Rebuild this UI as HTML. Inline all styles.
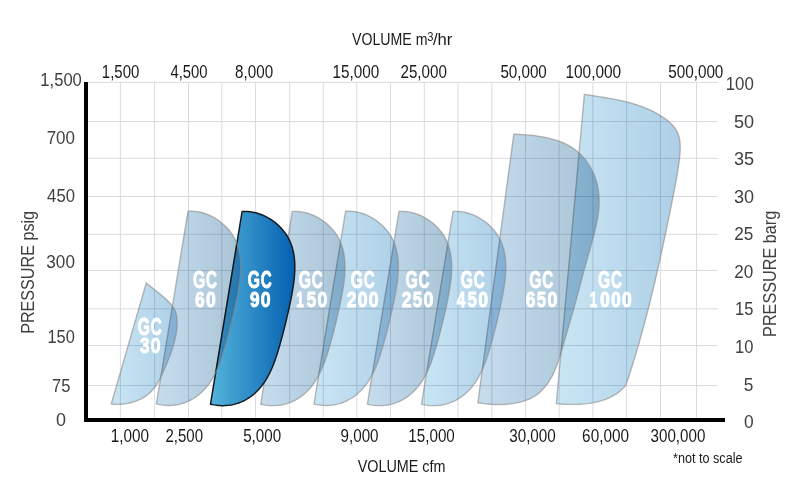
<!DOCTYPE html><html><head><meta charset="utf-8"><style>html,body{margin:0;padding:0;background:#fff;width:800px;height:488px;overflow:hidden}svg{display:block}text{font-family:"Liberation Sans",sans-serif}</style></head><body>
<svg width="800" height="488" viewBox="0 0 800 488">
<defs>
<linearGradient id="g1000" gradientUnits="userSpaceOnUse" x1="556.3" y1="0" x2="680.2" y2="0"><stop offset="0" stop-color="#c9e6f4"/><stop offset="1" stop-color="#aecfe7"/></linearGradient>
<linearGradient id="g650" gradientUnits="userSpaceOnUse" x1="477.9" y1="0" x2="599.1" y2="0"><stop offset="0" stop-color="#c6ddee"/><stop offset="1" stop-color="#a9c4d6"/></linearGradient>
<linearGradient id="g450" gradientUnits="userSpaceOnUse" x1="421.5" y1="0" x2="505.8" y2="0"><stop offset="0" stop-color="#c9e6f4"/><stop offset="1" stop-color="#aecfe7"/></linearGradient>
<linearGradient id="g250" gradientUnits="userSpaceOnUse" x1="367.4" y1="0" x2="451.7" y2="0"><stop offset="0" stop-color="#c6ddee"/><stop offset="1" stop-color="#a9c4d6"/></linearGradient>
<linearGradient id="g200" gradientUnits="userSpaceOnUse" x1="314.0" y1="0" x2="398.3" y2="0"><stop offset="0" stop-color="#c9e6f4"/><stop offset="1" stop-color="#aecfe7"/></linearGradient>
<linearGradient id="g150" gradientUnits="userSpaceOnUse" x1="260.7" y1="0" x2="345.0" y2="0"><stop offset="0" stop-color="#c6ddee"/><stop offset="1" stop-color="#a9c4d6"/></linearGradient>
<linearGradient id="g90" gradientUnits="userSpaceOnUse" x1="210.5" y1="0" x2="294.8" y2="0"><stop offset="0" stop-color="#54b4dc"/><stop offset="1" stop-color="#0560b0"/></linearGradient>
<linearGradient id="g60" gradientUnits="userSpaceOnUse" x1="156.4" y1="0" x2="240.7" y2="0"><stop offset="0" stop-color="#c6ddee"/><stop offset="1" stop-color="#a9c4d6"/></linearGradient>
<linearGradient id="g30" gradientUnits="userSpaceOnUse" x1="111.3" y1="0" x2="177.1" y2="0"><stop offset="0" stop-color="#c9e6f4"/><stop offset="1" stop-color="#aecfe7"/></linearGradient>
</defs>
<rect x="119.9" y="82" width="1" height="336" fill="#dbdbe1"/>
<rect x="154.1" y="82" width="1" height="336" fill="#dbdbe1"/>
<rect x="188.0" y="82" width="1" height="336" fill="#dbdbe1"/>
<rect x="221.3" y="82" width="1" height="336" fill="#dbdbe1"/>
<rect x="255.0" y="82" width="1" height="336" fill="#dbdbe1"/>
<rect x="289.2" y="82" width="1" height="336" fill="#dbdbe1"/>
<rect x="322.8" y="82" width="1" height="336" fill="#dbdbe1"/>
<rect x="356.3" y="82" width="1" height="336" fill="#dbdbe1"/>
<rect x="390.0" y="82" width="1" height="336" fill="#dbdbe1"/>
<rect x="423.8" y="82" width="1" height="336" fill="#dbdbe1"/>
<rect x="457.5" y="82" width="1" height="336" fill="#dbdbe1"/>
<rect x="491.3" y="82" width="1" height="336" fill="#dbdbe1"/>
<rect x="524.9" y="82" width="1" height="336" fill="#dbdbe1"/>
<rect x="558.6" y="82" width="1" height="336" fill="#dbdbe1"/>
<rect x="592.4" y="82" width="1" height="336" fill="#dbdbe1"/>
<rect x="626.1" y="82" width="1" height="336" fill="#dbdbe1"/>
<rect x="660.0" y="82" width="1" height="336" fill="#dbdbe1"/>
<rect x="696.0" y="82" width="1" height="336" fill="#dbdbe1"/>
<rect x="88" y="81.9" width="630" height="1" fill="#dbdbe1"/>
<rect x="88" y="121.0" width="630" height="1" fill="#dbdbe1"/>
<rect x="88" y="157.8" width="630" height="1" fill="#dbdbe1"/>
<rect x="88" y="196.0" width="630" height="1" fill="#dbdbe1"/>
<rect x="88" y="233.8" width="630" height="1" fill="#dbdbe1"/>
<rect x="88" y="270.0" width="630" height="1" fill="#dbdbe1"/>
<rect x="88" y="308.3" width="630" height="1" fill="#dbdbe1"/>
<rect x="88" y="345.0" width="630" height="1" fill="#dbdbe1"/>
<rect x="88" y="385.0" width="630" height="1" fill="#dbdbe1"/>
<path d="M584.40,94.40 L586.18,94.68 L587.96,94.96 L589.75,95.24 L591.54,95.51 L593.34,95.79 L595.14,96.07 L596.94,96.35 L598.75,96.63 L600.56,96.91 L602.37,97.20 L604.18,97.50 L605.99,97.80 L607.80,98.10 L609.62,98.42 L611.43,98.75 L613.24,99.08 L615.05,99.43 L616.85,99.79 L618.66,100.16 L620.46,100.54 L622.26,100.94 L624.05,101.36 L625.84,101.79 L627.62,102.24 L629.40,102.70 L631.17,103.19 L632.94,103.70 L634.70,104.23 L636.45,104.78 L638.20,105.35 L639.93,105.94 L641.66,106.57 L643.38,107.21 L645.09,107.89 L646.78,108.59 L648.47,109.32 L650.15,110.08 L651.81,110.87 L653.47,111.69 L655.11,112.54 L656.73,113.43 L658.34,114.35 L659.94,115.30 L661.53,116.29 L663.09,117.32 L664.63,118.39 L666.14,119.49 L667.60,120.64 L669.02,121.83 L670.37,123.06 L671.67,124.33 L672.89,125.65 L674.03,127.02 L675.08,128.43 L676.04,129.90 L676.90,131.41 L677.65,132.98 L678.29,134.59 L678.82,136.25 L679.25,137.95 L679.60,139.69 L679.86,141.46 L680.04,143.26 L680.15,145.09 L680.20,146.94 L680.19,148.80 L680.12,150.67 L680.01,152.56 L679.87,154.44 L679.69,156.33 L679.49,158.21 L679.27,160.08 L679.03,161.94 L678.79,163.79 L678.53,165.63 L678.27,167.45 L678.00,169.26 L677.72,171.07 L677.43,172.86 L677.13,174.65 L676.83,176.43 L676.52,178.20 L676.20,179.97 L675.88,181.73 L675.56,183.48 L675.23,185.24 L674.89,186.99 L674.56,188.74 L674.22,190.49 L673.87,192.23 L673.53,193.98 L673.18,195.73 L672.84,197.48 L672.49,199.23 L672.14,200.99 L671.79,202.74 L671.44,204.50 L671.09,206.26 L670.74,208.02 L670.39,209.78 L670.03,211.54 L669.68,213.31 L669.32,215.07 L668.96,216.84 L668.60,218.61 L668.24,220.38 L667.88,222.15 L667.51,223.92 L667.15,225.69 L666.78,227.47 L666.41,229.24 L666.04,231.02 L665.67,232.79 L665.30,234.57 L664.93,236.35 L664.55,238.13 L664.18,239.91 L663.80,241.69 L663.42,243.47 L663.04,245.26 L662.65,247.04 L662.27,248.82 L661.88,250.61 L661.49,252.39 L661.11,254.18 L660.71,255.97 L660.32,257.75 L659.93,259.54 L659.53,261.33 L659.13,263.11 L658.73,264.90 L658.33,266.69 L657.92,268.48 L657.52,270.27 L657.11,272.06 L656.70,273.85 L656.29,275.63 L655.87,277.42 L655.46,279.21 L655.04,281.00 L654.62,282.79 L654.19,284.58 L653.77,286.37 L653.34,288.16 L652.91,289.95 L652.48,291.73 L652.05,293.52 L651.62,295.31 L651.18,297.10 L650.74,298.88 L650.30,300.67 L649.85,302.46 L649.40,304.24 L648.95,306.03 L648.50,307.81 L648.05,309.59 L647.59,311.38 L647.13,313.16 L646.67,314.94 L646.21,316.72 L645.74,318.50 L645.27,320.28 L644.80,322.06 L644.32,323.84 L643.85,325.61 L643.37,327.39 L642.88,329.16 L642.40,330.94 L641.91,332.71 L641.42,334.48 L640.93,336.25 L640.43,338.02 L639.93,339.79 L639.43,341.56 L638.93,343.32 L638.42,345.08 L637.91,346.85 L637.40,348.61 L636.88,350.37 L636.36,352.13 L635.84,353.88 L635.31,355.64 L634.78,357.39 L634.25,359.14 L633.72,360.89 L633.18,362.64 L632.64,364.39 L632.10,366.13 L631.55,367.88 L631.00,369.62 L630.45,371.36 L629.89,373.09 L629.33,374.83 L628.77,376.56 L628.20,378.30 L627.63,380.02 L627.06,381.75 L626.48,383.48 L625.90,385.20 L624.14,387.19 L622.29,389.05 L620.35,390.78 L618.34,392.38 L616.25,393.86 L614.10,395.23 L611.88,396.47 L609.60,397.61 L607.26,398.64 L604.88,399.57 L602.45,400.41 L599.98,401.15 L597.47,401.80 L594.93,402.37 L592.37,402.86 L589.78,403.27 L587.18,403.62 L584.56,403.89 L581.94,404.10 L579.31,404.26 L576.68,404.36 L574.06,404.41 L571.46,404.41 L568.86,404.37 L566.29,404.29 L563.74,404.18 L561.23,404.05 L558.74,403.88 L556.30,403.70 Z" fill="url(#g1000)" style="mix-blend-mode:multiply"/>
<path d="M584.40,94.40 L586.18,94.68 L587.96,94.96 L589.75,95.24 L591.54,95.51 L593.34,95.79 L595.14,96.07 L596.94,96.35 L598.75,96.63 L600.56,96.91 L602.37,97.20 L604.18,97.50 L605.99,97.80 L607.80,98.10 L609.62,98.42 L611.43,98.75 L613.24,99.08 L615.05,99.43 L616.85,99.79 L618.66,100.16 L620.46,100.54 L622.26,100.94 L624.05,101.36 L625.84,101.79 L627.62,102.24 L629.40,102.70 L631.17,103.19 L632.94,103.70 L634.70,104.23 L636.45,104.78 L638.20,105.35 L639.93,105.94 L641.66,106.57 L643.38,107.21 L645.09,107.89 L646.78,108.59 L648.47,109.32 L650.15,110.08 L651.81,110.87 L653.47,111.69 L655.11,112.54 L656.73,113.43 L658.34,114.35 L659.94,115.30 L661.53,116.29 L663.09,117.32 L664.63,118.39 L666.14,119.49 L667.60,120.64 L669.02,121.83 L670.37,123.06 L671.67,124.33 L672.89,125.65 L674.03,127.02 L675.08,128.43 L676.04,129.90 L676.90,131.41 L677.65,132.98 L678.29,134.59 L678.82,136.25 L679.25,137.95 L679.60,139.69 L679.86,141.46 L680.04,143.26 L680.15,145.09 L680.20,146.94 L680.19,148.80 L680.12,150.67 L680.01,152.56 L679.87,154.44 L679.69,156.33 L679.49,158.21 L679.27,160.08 L679.03,161.94 L678.79,163.79 L678.53,165.63 L678.27,167.45 L678.00,169.26 L677.72,171.07 L677.43,172.86 L677.13,174.65 L676.83,176.43 L676.52,178.20 L676.20,179.97 L675.88,181.73 L675.56,183.48 L675.23,185.24 L674.89,186.99 L674.56,188.74 L674.22,190.49 L673.87,192.23 L673.53,193.98 L673.18,195.73 L672.84,197.48 L672.49,199.23 L672.14,200.99 L671.79,202.74 L671.44,204.50 L671.09,206.26 L670.74,208.02 L670.39,209.78 L670.03,211.54 L669.68,213.31 L669.32,215.07 L668.96,216.84 L668.60,218.61 L668.24,220.38 L667.88,222.15 L667.51,223.92 L667.15,225.69 L666.78,227.47 L666.41,229.24 L666.04,231.02 L665.67,232.79 L665.30,234.57 L664.93,236.35 L664.55,238.13 L664.18,239.91 L663.80,241.69 L663.42,243.47 L663.04,245.26 L662.65,247.04 L662.27,248.82 L661.88,250.61 L661.49,252.39 L661.11,254.18 L660.71,255.97 L660.32,257.75 L659.93,259.54 L659.53,261.33 L659.13,263.11 L658.73,264.90 L658.33,266.69 L657.92,268.48 L657.52,270.27 L657.11,272.06 L656.70,273.85 L656.29,275.63 L655.87,277.42 L655.46,279.21 L655.04,281.00 L654.62,282.79 L654.19,284.58 L653.77,286.37 L653.34,288.16 L652.91,289.95 L652.48,291.73 L652.05,293.52 L651.62,295.31 L651.18,297.10 L650.74,298.88 L650.30,300.67 L649.85,302.46 L649.40,304.24 L648.95,306.03 L648.50,307.81 L648.05,309.59 L647.59,311.38 L647.13,313.16 L646.67,314.94 L646.21,316.72 L645.74,318.50 L645.27,320.28 L644.80,322.06 L644.32,323.84 L643.85,325.61 L643.37,327.39 L642.88,329.16 L642.40,330.94 L641.91,332.71 L641.42,334.48 L640.93,336.25 L640.43,338.02 L639.93,339.79 L639.43,341.56 L638.93,343.32 L638.42,345.08 L637.91,346.85 L637.40,348.61 L636.88,350.37 L636.36,352.13 L635.84,353.88 L635.31,355.64 L634.78,357.39 L634.25,359.14 L633.72,360.89 L633.18,362.64 L632.64,364.39 L632.10,366.13 L631.55,367.88 L631.00,369.62 L630.45,371.36 L629.89,373.09 L629.33,374.83 L628.77,376.56 L628.20,378.30 L627.63,380.02 L627.06,381.75 L626.48,383.48 L625.90,385.20 L624.14,387.19 L622.29,389.05 L620.35,390.78 L618.34,392.38 L616.25,393.86 L614.10,395.23 L611.88,396.47 L609.60,397.61 L607.26,398.64 L604.88,399.57 L602.45,400.41 L599.98,401.15 L597.47,401.80 L594.93,402.37 L592.37,402.86 L589.78,403.27 L587.18,403.62 L584.56,403.89 L581.94,404.10 L579.31,404.26 L576.68,404.36 L574.06,404.41 L571.46,404.41 L568.86,404.37 L566.29,404.29 L563.74,404.18 L561.23,404.05 L558.74,403.88 L556.30,403.70 Z" fill="none" stroke="#8a8a8a" stroke-opacity="0.60" stroke-width="1.40"/>
<path d="M513.80,134.20 L515.81,134.28 L517.86,134.37 L519.94,134.48 L522.05,134.60 L524.19,134.74 L526.36,134.91 L528.54,135.09 L530.75,135.30 L532.97,135.54 L535.19,135.81 L537.43,136.11 L539.67,136.45 L541.90,136.82 L544.14,137.23 L546.37,137.68 L548.58,138.18 L550.78,138.71 L552.97,139.30 L555.13,139.94 L557.27,140.62 L559.38,141.36 L561.45,142.16 L563.49,143.01 L565.50,143.93 L567.46,144.91 L569.37,145.95 L571.24,147.06 L573.05,148.23 L574.80,149.48 L576.50,150.80 L578.14,152.18 L579.73,153.62 L581.25,155.12 L582.72,156.67 L584.13,158.29 L585.48,159.95 L586.77,161.66 L587.99,163.41 L589.16,165.21 L590.26,167.05 L591.31,168.93 L592.28,170.84 L593.20,172.78 L594.05,174.75 L594.84,176.75 L595.56,178.77 L596.22,180.81 L596.81,182.87 L597.33,184.95 L597.79,187.04 L598.17,189.14 L598.50,191.24 L598.75,193.35 L598.94,195.47 L599.07,197.59 L599.13,199.72 L599.15,201.85 L599.10,203.99 L599.01,206.13 L598.86,208.28 L598.67,210.42 L598.44,212.57 L598.16,214.72 L597.84,216.88 L597.49,219.03 L597.10,221.19 L596.68,223.35 L596.22,225.51 L595.75,227.66 L595.24,229.82 L594.72,231.98 L594.17,234.13 L593.61,236.29 L593.03,238.44 L592.44,240.59 L591.84,242.74 L591.24,244.89 L590.63,247.03 L590.01,249.17 L589.40,251.30 L588.79,253.43 L588.18,255.56 L587.58,257.68 L586.99,259.79 L586.40,261.90 L585.81,264.01 L585.24,266.11 L584.66,268.21 L584.09,270.31 L583.53,272.40 L582.97,274.49 L582.41,276.57 L581.85,278.66 L581.29,280.74 L580.74,282.82 L580.18,284.90 L579.63,286.98 L579.08,289.05 L578.52,291.13 L577.97,293.20 L577.41,295.28 L576.85,297.35 L576.29,299.43 L575.73,301.50 L575.16,303.58 L574.59,305.65 L574.01,307.73 L573.43,309.81 L572.84,311.89 L572.25,313.97 L571.66,316.06 L571.06,318.15 L570.46,320.23 L569.85,322.33 L569.24,324.42 L568.63,326.52 L568.02,328.62 L567.40,330.73 L566.79,332.84 L566.17,334.95 L565.56,337.06 L564.94,339.19 L564.32,341.31 L563.71,343.44 L563.10,345.57 L562.48,347.71 L561.86,349.85 L561.23,351.98 L560.59,354.12 L559.93,356.25 L559.25,358.37 L558.54,360.48 L557.81,362.57 L557.06,364.65 L556.27,366.71 L555.45,368.74 L554.59,370.75 L553.70,372.72 L552.76,374.66 L551.79,376.57 L550.77,378.43 L549.70,380.25 L548.58,382.03 L547.41,383.75 L546.18,385.42 L544.90,387.03 L543.56,388.59 L542.15,390.08 L540.68,391.51 L539.15,392.86 L537.54,394.15 L535.86,395.36 L534.11,396.49 L532.28,397.53 L530.38,398.50 L528.41,399.38 L526.38,400.19 L524.29,400.92 L522.15,401.58 L519.97,402.17 L517.74,402.68 L515.49,403.13 L513.21,403.52 L510.90,403.84 L508.58,404.10 L506.26,404.30 L503.93,404.45 L501.60,404.54 L499.28,404.58 L496.97,404.56 L494.69,404.50 L492.43,404.40 L490.20,404.25 L488.02,404.06 L485.88,403.83 L483.79,403.57 L481.76,403.28 L479.80,402.95 L477.90,402.60 Z" fill="url(#g650)" style="mix-blend-mode:multiply"/>
<path d="M513.80,134.20 L515.81,134.28 L517.86,134.37 L519.94,134.48 L522.05,134.60 L524.19,134.74 L526.36,134.91 L528.54,135.09 L530.75,135.30 L532.97,135.54 L535.19,135.81 L537.43,136.11 L539.67,136.45 L541.90,136.82 L544.14,137.23 L546.37,137.68 L548.58,138.18 L550.78,138.71 L552.97,139.30 L555.13,139.94 L557.27,140.62 L559.38,141.36 L561.45,142.16 L563.49,143.01 L565.50,143.93 L567.46,144.91 L569.37,145.95 L571.24,147.06 L573.05,148.23 L574.80,149.48 L576.50,150.80 L578.14,152.18 L579.73,153.62 L581.25,155.12 L582.72,156.67 L584.13,158.29 L585.48,159.95 L586.77,161.66 L587.99,163.41 L589.16,165.21 L590.26,167.05 L591.31,168.93 L592.28,170.84 L593.20,172.78 L594.05,174.75 L594.84,176.75 L595.56,178.77 L596.22,180.81 L596.81,182.87 L597.33,184.95 L597.79,187.04 L598.17,189.14 L598.50,191.24 L598.75,193.35 L598.94,195.47 L599.07,197.59 L599.13,199.72 L599.15,201.85 L599.10,203.99 L599.01,206.13 L598.86,208.28 L598.67,210.42 L598.44,212.57 L598.16,214.72 L597.84,216.88 L597.49,219.03 L597.10,221.19 L596.68,223.35 L596.22,225.51 L595.75,227.66 L595.24,229.82 L594.72,231.98 L594.17,234.13 L593.61,236.29 L593.03,238.44 L592.44,240.59 L591.84,242.74 L591.24,244.89 L590.63,247.03 L590.01,249.17 L589.40,251.30 L588.79,253.43 L588.18,255.56 L587.58,257.68 L586.99,259.79 L586.40,261.90 L585.81,264.01 L585.24,266.11 L584.66,268.21 L584.09,270.31 L583.53,272.40 L582.97,274.49 L582.41,276.57 L581.85,278.66 L581.29,280.74 L580.74,282.82 L580.18,284.90 L579.63,286.98 L579.08,289.05 L578.52,291.13 L577.97,293.20 L577.41,295.28 L576.85,297.35 L576.29,299.43 L575.73,301.50 L575.16,303.58 L574.59,305.65 L574.01,307.73 L573.43,309.81 L572.84,311.89 L572.25,313.97 L571.66,316.06 L571.06,318.15 L570.46,320.23 L569.85,322.33 L569.24,324.42 L568.63,326.52 L568.02,328.62 L567.40,330.73 L566.79,332.84 L566.17,334.95 L565.56,337.06 L564.94,339.19 L564.32,341.31 L563.71,343.44 L563.10,345.57 L562.48,347.71 L561.86,349.85 L561.23,351.98 L560.59,354.12 L559.93,356.25 L559.25,358.37 L558.54,360.48 L557.81,362.57 L557.06,364.65 L556.27,366.71 L555.45,368.74 L554.59,370.75 L553.70,372.72 L552.76,374.66 L551.79,376.57 L550.77,378.43 L549.70,380.25 L548.58,382.03 L547.41,383.75 L546.18,385.42 L544.90,387.03 L543.56,388.59 L542.15,390.08 L540.68,391.51 L539.15,392.86 L537.54,394.15 L535.86,395.36 L534.11,396.49 L532.28,397.53 L530.38,398.50 L528.41,399.38 L526.38,400.19 L524.29,400.92 L522.15,401.58 L519.97,402.17 L517.74,402.68 L515.49,403.13 L513.21,403.52 L510.90,403.84 L508.58,404.10 L506.26,404.30 L503.93,404.45 L501.60,404.54 L499.28,404.58 L496.97,404.56 L494.69,404.50 L492.43,404.40 L490.20,404.25 L488.02,404.06 L485.88,403.83 L483.79,403.57 L481.76,403.28 L479.80,402.95 L477.90,402.60 Z" fill="none" stroke="#8a8a8a" stroke-opacity="0.60" stroke-width="1.40"/>
<path d="M453.10,211.50 L454.64,211.42 L456.19,211.40 L457.73,211.44 L459.26,211.54 L460.79,211.69 L462.31,211.89 L463.82,212.15 L465.33,212.46 L466.82,212.81 L468.30,213.22 L469.77,213.68 L471.23,214.18 L472.67,214.72 L474.09,215.31 L475.49,215.95 L476.88,216.62 L478.24,217.34 L479.59,218.09 L480.91,218.89 L482.21,219.72 L483.48,220.58 L484.72,221.48 L485.94,222.41 L487.13,223.38 L488.29,224.37 L489.42,225.40 L490.51,226.45 L491.58,227.53 L492.60,228.63 L493.59,229.76 L494.55,230.92 L495.46,232.09 L496.34,233.29 L497.18,234.50 L497.97,235.74 L498.72,236.99 L499.42,238.26 L500.09,239.54 L500.71,240.84 L501.29,242.16 L501.83,243.49 L502.33,244.83 L502.80,246.19 L503.23,247.56 L503.62,248.94 L503.97,250.33 L504.29,251.74 L504.58,253.15 L504.84,254.58 L505.06,256.02 L505.25,257.47 L505.41,258.92 L505.55,260.38 L505.65,261.86 L505.73,263.34 L505.78,264.82 L505.81,266.32 L505.81,267.82 L505.79,269.32 L505.74,270.83 L505.67,272.34 L505.59,273.86 L505.48,275.39 L505.35,276.91 L505.21,278.44 L505.05,279.97 L504.87,281.50 L504.67,283.03 L504.46,284.57 L504.24,286.10 L504.00,287.63 L503.76,289.17 L503.50,290.70 L503.23,292.23 L502.95,293.75 L502.67,295.28 L502.37,296.80 L502.07,298.31 L501.77,299.83 L501.46,301.34 L501.14,302.84 L500.83,304.33 L500.51,305.83 L500.19,307.31 L499.86,308.79 L499.54,310.26 L499.21,311.73 L498.88,313.19 L498.55,314.65 L498.22,316.10 L497.88,317.55 L497.55,319.00 L497.20,320.44 L496.86,321.88 L496.51,323.32 L496.16,324.75 L495.81,326.18 L495.45,327.61 L495.09,329.05 L494.73,330.47 L494.36,331.90 L493.99,333.33 L493.61,334.76 L493.23,336.19 L492.85,337.62 L492.46,339.06 L492.06,340.49 L491.67,341.92 L491.26,343.36 L490.85,344.80 L490.44,346.25 L490.02,347.69 L489.59,349.14 L489.16,350.59 L488.72,352.04 L488.27,353.48 L487.81,354.93 L487.34,356.37 L486.86,357.81 L486.36,359.24 L485.86,360.67 L485.34,362.09 L484.81,363.50 L484.26,364.91 L483.70,366.30 L483.12,367.69 L482.52,369.07 L481.91,370.43 L481.28,371.79 L480.62,373.12 L479.95,374.45 L479.26,375.76 L478.55,377.05 L477.81,378.33 L477.05,379.59 L476.27,380.83 L475.47,382.05 L474.64,383.26 L473.79,384.44 L472.91,385.59 L472.02,386.73 L471.09,387.84 L470.15,388.93 L469.18,389.99 L468.19,391.02 L467.17,392.02 L466.13,393.00 L465.06,393.95 L463.97,394.87 L462.86,395.75 L461.72,396.60 L460.55,397.42 L459.36,398.21 L458.15,398.96 L456.91,399.67 L455.65,400.35 L454.36,400.99 L453.06,401.60 L451.73,402.16 L450.37,402.68 L449.00,403.17 L447.61,403.61 L446.20,404.01 L444.77,404.37 L443.32,404.69 L441.85,404.96 L440.37,405.19 L438.87,405.37 L437.35,405.51 L435.82,405.60 L434.28,405.64 L432.72,405.64 L431.15,405.58 L429.57,405.48 L427.98,405.33 L426.37,405.12 L424.76,404.87 L423.13,404.56 L421.50,404.20 Z" fill="url(#g450)" style="mix-blend-mode:multiply"/>
<path d="M453.10,211.50 L454.64,211.42 L456.19,211.40 L457.73,211.44 L459.26,211.54 L460.79,211.69 L462.31,211.89 L463.82,212.15 L465.33,212.46 L466.82,212.81 L468.30,213.22 L469.77,213.68 L471.23,214.18 L472.67,214.72 L474.09,215.31 L475.49,215.95 L476.88,216.62 L478.24,217.34 L479.59,218.09 L480.91,218.89 L482.21,219.72 L483.48,220.58 L484.72,221.48 L485.94,222.41 L487.13,223.38 L488.29,224.37 L489.42,225.40 L490.51,226.45 L491.58,227.53 L492.60,228.63 L493.59,229.76 L494.55,230.92 L495.46,232.09 L496.34,233.29 L497.18,234.50 L497.97,235.74 L498.72,236.99 L499.42,238.26 L500.09,239.54 L500.71,240.84 L501.29,242.16 L501.83,243.49 L502.33,244.83 L502.80,246.19 L503.23,247.56 L503.62,248.94 L503.97,250.33 L504.29,251.74 L504.58,253.15 L504.84,254.58 L505.06,256.02 L505.25,257.47 L505.41,258.92 L505.55,260.38 L505.65,261.86 L505.73,263.34 L505.78,264.82 L505.81,266.32 L505.81,267.82 L505.79,269.32 L505.74,270.83 L505.67,272.34 L505.59,273.86 L505.48,275.39 L505.35,276.91 L505.21,278.44 L505.05,279.97 L504.87,281.50 L504.67,283.03 L504.46,284.57 L504.24,286.10 L504.00,287.63 L503.76,289.17 L503.50,290.70 L503.23,292.23 L502.95,293.75 L502.67,295.28 L502.37,296.80 L502.07,298.31 L501.77,299.83 L501.46,301.34 L501.14,302.84 L500.83,304.33 L500.51,305.83 L500.19,307.31 L499.86,308.79 L499.54,310.26 L499.21,311.73 L498.88,313.19 L498.55,314.65 L498.22,316.10 L497.88,317.55 L497.55,319.00 L497.20,320.44 L496.86,321.88 L496.51,323.32 L496.16,324.75 L495.81,326.18 L495.45,327.61 L495.09,329.05 L494.73,330.47 L494.36,331.90 L493.99,333.33 L493.61,334.76 L493.23,336.19 L492.85,337.62 L492.46,339.06 L492.06,340.49 L491.67,341.92 L491.26,343.36 L490.85,344.80 L490.44,346.25 L490.02,347.69 L489.59,349.14 L489.16,350.59 L488.72,352.04 L488.27,353.48 L487.81,354.93 L487.34,356.37 L486.86,357.81 L486.36,359.24 L485.86,360.67 L485.34,362.09 L484.81,363.50 L484.26,364.91 L483.70,366.30 L483.12,367.69 L482.52,369.07 L481.91,370.43 L481.28,371.79 L480.62,373.12 L479.95,374.45 L479.26,375.76 L478.55,377.05 L477.81,378.33 L477.05,379.59 L476.27,380.83 L475.47,382.05 L474.64,383.26 L473.79,384.44 L472.91,385.59 L472.02,386.73 L471.09,387.84 L470.15,388.93 L469.18,389.99 L468.19,391.02 L467.17,392.02 L466.13,393.00 L465.06,393.95 L463.97,394.87 L462.86,395.75 L461.72,396.60 L460.55,397.42 L459.36,398.21 L458.15,398.96 L456.91,399.67 L455.65,400.35 L454.36,400.99 L453.06,401.60 L451.73,402.16 L450.37,402.68 L449.00,403.17 L447.61,403.61 L446.20,404.01 L444.77,404.37 L443.32,404.69 L441.85,404.96 L440.37,405.19 L438.87,405.37 L437.35,405.51 L435.82,405.60 L434.28,405.64 L432.72,405.64 L431.15,405.58 L429.57,405.48 L427.98,405.33 L426.37,405.12 L424.76,404.87 L423.13,404.56 L421.50,404.20 Z" fill="none" stroke="#8a8a8a" stroke-opacity="0.60" stroke-width="1.40"/>
<path d="M399.00,211.50 L400.54,211.42 L402.09,211.40 L403.63,211.44 L405.16,211.54 L406.69,211.69 L408.21,211.89 L409.72,212.15 L411.23,212.46 L412.72,212.81 L414.20,213.22 L415.67,213.68 L417.13,214.18 L418.57,214.72 L419.99,215.31 L421.39,215.95 L422.78,216.62 L424.14,217.34 L425.49,218.09 L426.81,218.89 L428.11,219.72 L429.38,220.58 L430.62,221.48 L431.84,222.41 L433.03,223.38 L434.19,224.37 L435.32,225.40 L436.41,226.45 L437.48,227.53 L438.50,228.63 L439.49,229.76 L440.45,230.92 L441.36,232.09 L442.24,233.29 L443.08,234.50 L443.87,235.74 L444.62,236.99 L445.32,238.26 L445.99,239.54 L446.61,240.84 L447.19,242.16 L447.73,243.49 L448.23,244.83 L448.70,246.19 L449.13,247.56 L449.52,248.94 L449.87,250.33 L450.19,251.74 L450.48,253.15 L450.74,254.58 L450.96,256.02 L451.15,257.47 L451.31,258.92 L451.45,260.38 L451.55,261.86 L451.63,263.34 L451.68,264.82 L451.71,266.32 L451.71,267.82 L451.69,269.32 L451.64,270.83 L451.57,272.34 L451.49,273.86 L451.38,275.39 L451.25,276.91 L451.11,278.44 L450.95,279.97 L450.77,281.50 L450.57,283.03 L450.36,284.57 L450.14,286.10 L449.90,287.63 L449.66,289.17 L449.40,290.70 L449.13,292.23 L448.85,293.75 L448.57,295.28 L448.27,296.80 L447.97,298.31 L447.67,299.83 L447.36,301.34 L447.04,302.84 L446.73,304.33 L446.41,305.83 L446.09,307.31 L445.76,308.79 L445.44,310.26 L445.11,311.73 L444.78,313.19 L444.45,314.65 L444.12,316.10 L443.78,317.55 L443.45,319.00 L443.10,320.44 L442.76,321.88 L442.41,323.32 L442.06,324.75 L441.71,326.18 L441.35,327.61 L440.99,329.05 L440.63,330.47 L440.26,331.90 L439.89,333.33 L439.51,334.76 L439.13,336.19 L438.75,337.62 L438.36,339.06 L437.96,340.49 L437.57,341.92 L437.16,343.36 L436.75,344.80 L436.34,346.25 L435.92,347.69 L435.49,349.14 L435.06,350.59 L434.62,352.04 L434.17,353.48 L433.71,354.93 L433.24,356.37 L432.76,357.81 L432.26,359.24 L431.76,360.67 L431.24,362.09 L430.71,363.50 L430.16,364.91 L429.60,366.30 L429.02,367.69 L428.42,369.07 L427.81,370.43 L427.18,371.79 L426.52,373.12 L425.85,374.45 L425.16,375.76 L424.45,377.05 L423.71,378.33 L422.95,379.59 L422.17,380.83 L421.37,382.05 L420.54,383.26 L419.69,384.44 L418.81,385.59 L417.92,386.73 L416.99,387.84 L416.05,388.93 L415.08,389.99 L414.09,391.02 L413.07,392.02 L412.03,393.00 L410.96,393.95 L409.87,394.87 L408.76,395.75 L407.62,396.60 L406.45,397.42 L405.26,398.21 L404.05,398.96 L402.81,399.67 L401.55,400.35 L400.26,400.99 L398.96,401.60 L397.63,402.16 L396.27,402.68 L394.90,403.17 L393.51,403.61 L392.10,404.01 L390.67,404.37 L389.22,404.69 L387.75,404.96 L386.27,405.19 L384.77,405.37 L383.25,405.51 L381.72,405.60 L380.18,405.64 L378.62,405.64 L377.05,405.58 L375.47,405.48 L373.88,405.33 L372.27,405.12 L370.66,404.87 L369.03,404.56 L367.40,404.20 Z" fill="url(#g250)" style="mix-blend-mode:multiply"/>
<path d="M399.00,211.50 L400.54,211.42 L402.09,211.40 L403.63,211.44 L405.16,211.54 L406.69,211.69 L408.21,211.89 L409.72,212.15 L411.23,212.46 L412.72,212.81 L414.20,213.22 L415.67,213.68 L417.13,214.18 L418.57,214.72 L419.99,215.31 L421.39,215.95 L422.78,216.62 L424.14,217.34 L425.49,218.09 L426.81,218.89 L428.11,219.72 L429.38,220.58 L430.62,221.48 L431.84,222.41 L433.03,223.38 L434.19,224.37 L435.32,225.40 L436.41,226.45 L437.48,227.53 L438.50,228.63 L439.49,229.76 L440.45,230.92 L441.36,232.09 L442.24,233.29 L443.08,234.50 L443.87,235.74 L444.62,236.99 L445.32,238.26 L445.99,239.54 L446.61,240.84 L447.19,242.16 L447.73,243.49 L448.23,244.83 L448.70,246.19 L449.13,247.56 L449.52,248.94 L449.87,250.33 L450.19,251.74 L450.48,253.15 L450.74,254.58 L450.96,256.02 L451.15,257.47 L451.31,258.92 L451.45,260.38 L451.55,261.86 L451.63,263.34 L451.68,264.82 L451.71,266.32 L451.71,267.82 L451.69,269.32 L451.64,270.83 L451.57,272.34 L451.49,273.86 L451.38,275.39 L451.25,276.91 L451.11,278.44 L450.95,279.97 L450.77,281.50 L450.57,283.03 L450.36,284.57 L450.14,286.10 L449.90,287.63 L449.66,289.17 L449.40,290.70 L449.13,292.23 L448.85,293.75 L448.57,295.28 L448.27,296.80 L447.97,298.31 L447.67,299.83 L447.36,301.34 L447.04,302.84 L446.73,304.33 L446.41,305.83 L446.09,307.31 L445.76,308.79 L445.44,310.26 L445.11,311.73 L444.78,313.19 L444.45,314.65 L444.12,316.10 L443.78,317.55 L443.45,319.00 L443.10,320.44 L442.76,321.88 L442.41,323.32 L442.06,324.75 L441.71,326.18 L441.35,327.61 L440.99,329.05 L440.63,330.47 L440.26,331.90 L439.89,333.33 L439.51,334.76 L439.13,336.19 L438.75,337.62 L438.36,339.06 L437.96,340.49 L437.57,341.92 L437.16,343.36 L436.75,344.80 L436.34,346.25 L435.92,347.69 L435.49,349.14 L435.06,350.59 L434.62,352.04 L434.17,353.48 L433.71,354.93 L433.24,356.37 L432.76,357.81 L432.26,359.24 L431.76,360.67 L431.24,362.09 L430.71,363.50 L430.16,364.91 L429.60,366.30 L429.02,367.69 L428.42,369.07 L427.81,370.43 L427.18,371.79 L426.52,373.12 L425.85,374.45 L425.16,375.76 L424.45,377.05 L423.71,378.33 L422.95,379.59 L422.17,380.83 L421.37,382.05 L420.54,383.26 L419.69,384.44 L418.81,385.59 L417.92,386.73 L416.99,387.84 L416.05,388.93 L415.08,389.99 L414.09,391.02 L413.07,392.02 L412.03,393.00 L410.96,393.95 L409.87,394.87 L408.76,395.75 L407.62,396.60 L406.45,397.42 L405.26,398.21 L404.05,398.96 L402.81,399.67 L401.55,400.35 L400.26,400.99 L398.96,401.60 L397.63,402.16 L396.27,402.68 L394.90,403.17 L393.51,403.61 L392.10,404.01 L390.67,404.37 L389.22,404.69 L387.75,404.96 L386.27,405.19 L384.77,405.37 L383.25,405.51 L381.72,405.60 L380.18,405.64 L378.62,405.64 L377.05,405.58 L375.47,405.48 L373.88,405.33 L372.27,405.12 L370.66,404.87 L369.03,404.56 L367.40,404.20 Z" fill="none" stroke="#8a8a8a" stroke-opacity="0.60" stroke-width="1.40"/>
<path d="M345.60,211.30 L347.14,211.22 L348.69,211.20 L350.23,211.24 L351.76,211.34 L353.29,211.49 L354.81,211.69 L356.32,211.95 L357.83,212.26 L359.32,212.61 L360.80,213.02 L362.27,213.48 L363.73,213.98 L365.17,214.52 L366.59,215.11 L367.99,215.75 L369.38,216.42 L370.74,217.14 L372.09,217.89 L373.41,218.69 L374.71,219.52 L375.98,220.38 L377.22,221.28 L378.44,222.21 L379.63,223.18 L380.79,224.17 L381.92,225.20 L383.01,226.25 L384.08,227.33 L385.10,228.43 L386.09,229.56 L387.05,230.72 L387.96,231.89 L388.84,233.09 L389.68,234.30 L390.47,235.54 L391.22,236.79 L391.92,238.06 L392.59,239.34 L393.21,240.64 L393.79,241.96 L394.33,243.29 L394.83,244.63 L395.30,245.99 L395.73,247.36 L396.12,248.74 L396.47,250.13 L396.79,251.54 L397.08,252.95 L397.34,254.38 L397.56,255.82 L397.75,257.27 L397.91,258.72 L398.05,260.18 L398.15,261.66 L398.23,263.14 L398.28,264.62 L398.31,266.12 L398.31,267.62 L398.29,269.12 L398.24,270.63 L398.17,272.14 L398.09,273.66 L397.98,275.19 L397.85,276.71 L397.71,278.24 L397.55,279.77 L397.37,281.30 L397.17,282.83 L396.96,284.37 L396.74,285.90 L396.50,287.43 L396.26,288.97 L396.00,290.50 L395.73,292.03 L395.45,293.55 L395.17,295.08 L394.87,296.60 L394.57,298.11 L394.27,299.63 L393.96,301.14 L393.64,302.64 L393.33,304.13 L393.01,305.63 L392.69,307.11 L392.36,308.59 L392.04,310.06 L391.71,311.53 L391.38,312.99 L391.05,314.45 L390.72,315.90 L390.38,317.35 L390.05,318.80 L389.70,320.24 L389.36,321.68 L389.01,323.12 L388.66,324.55 L388.31,325.98 L387.95,327.41 L387.59,328.85 L387.23,330.27 L386.86,331.70 L386.49,333.13 L386.11,334.56 L385.73,335.99 L385.35,337.42 L384.96,338.86 L384.56,340.29 L384.17,341.72 L383.76,343.16 L383.35,344.60 L382.94,346.05 L382.52,347.49 L382.09,348.94 L381.66,350.39 L381.22,351.84 L380.77,353.28 L380.31,354.73 L379.84,356.17 L379.36,357.61 L378.86,359.04 L378.36,360.47 L377.84,361.89 L377.31,363.30 L376.76,364.71 L376.20,366.10 L375.62,367.49 L375.02,368.87 L374.41,370.23 L373.78,371.59 L373.12,372.92 L372.45,374.25 L371.76,375.56 L371.05,376.85 L370.31,378.13 L369.55,379.39 L368.77,380.63 L367.97,381.85 L367.14,383.06 L366.29,384.24 L365.41,385.39 L364.52,386.53 L363.59,387.64 L362.65,388.73 L361.68,389.79 L360.69,390.82 L359.67,391.82 L358.63,392.80 L357.56,393.75 L356.47,394.67 L355.36,395.55 L354.22,396.40 L353.05,397.22 L351.86,398.01 L350.65,398.76 L349.41,399.47 L348.15,400.15 L346.86,400.79 L345.56,401.40 L344.23,401.96 L342.87,402.48 L341.50,402.97 L340.11,403.41 L338.70,403.81 L337.27,404.17 L335.82,404.49 L334.35,404.76 L332.87,404.99 L331.37,405.17 L329.85,405.31 L328.32,405.40 L326.78,405.44 L325.22,405.44 L323.65,405.38 L322.07,405.28 L320.48,405.13 L318.87,404.92 L317.26,404.67 L315.63,404.36 L314.00,404.00 Z" fill="url(#g200)" style="mix-blend-mode:multiply"/>
<path d="M345.60,211.30 L347.14,211.22 L348.69,211.20 L350.23,211.24 L351.76,211.34 L353.29,211.49 L354.81,211.69 L356.32,211.95 L357.83,212.26 L359.32,212.61 L360.80,213.02 L362.27,213.48 L363.73,213.98 L365.17,214.52 L366.59,215.11 L367.99,215.75 L369.38,216.42 L370.74,217.14 L372.09,217.89 L373.41,218.69 L374.71,219.52 L375.98,220.38 L377.22,221.28 L378.44,222.21 L379.63,223.18 L380.79,224.17 L381.92,225.20 L383.01,226.25 L384.08,227.33 L385.10,228.43 L386.09,229.56 L387.05,230.72 L387.96,231.89 L388.84,233.09 L389.68,234.30 L390.47,235.54 L391.22,236.79 L391.92,238.06 L392.59,239.34 L393.21,240.64 L393.79,241.96 L394.33,243.29 L394.83,244.63 L395.30,245.99 L395.73,247.36 L396.12,248.74 L396.47,250.13 L396.79,251.54 L397.08,252.95 L397.34,254.38 L397.56,255.82 L397.75,257.27 L397.91,258.72 L398.05,260.18 L398.15,261.66 L398.23,263.14 L398.28,264.62 L398.31,266.12 L398.31,267.62 L398.29,269.12 L398.24,270.63 L398.17,272.14 L398.09,273.66 L397.98,275.19 L397.85,276.71 L397.71,278.24 L397.55,279.77 L397.37,281.30 L397.17,282.83 L396.96,284.37 L396.74,285.90 L396.50,287.43 L396.26,288.97 L396.00,290.50 L395.73,292.03 L395.45,293.55 L395.17,295.08 L394.87,296.60 L394.57,298.11 L394.27,299.63 L393.96,301.14 L393.64,302.64 L393.33,304.13 L393.01,305.63 L392.69,307.11 L392.36,308.59 L392.04,310.06 L391.71,311.53 L391.38,312.99 L391.05,314.45 L390.72,315.90 L390.38,317.35 L390.05,318.80 L389.70,320.24 L389.36,321.68 L389.01,323.12 L388.66,324.55 L388.31,325.98 L387.95,327.41 L387.59,328.85 L387.23,330.27 L386.86,331.70 L386.49,333.13 L386.11,334.56 L385.73,335.99 L385.35,337.42 L384.96,338.86 L384.56,340.29 L384.17,341.72 L383.76,343.16 L383.35,344.60 L382.94,346.05 L382.52,347.49 L382.09,348.94 L381.66,350.39 L381.22,351.84 L380.77,353.28 L380.31,354.73 L379.84,356.17 L379.36,357.61 L378.86,359.04 L378.36,360.47 L377.84,361.89 L377.31,363.30 L376.76,364.71 L376.20,366.10 L375.62,367.49 L375.02,368.87 L374.41,370.23 L373.78,371.59 L373.12,372.92 L372.45,374.25 L371.76,375.56 L371.05,376.85 L370.31,378.13 L369.55,379.39 L368.77,380.63 L367.97,381.85 L367.14,383.06 L366.29,384.24 L365.41,385.39 L364.52,386.53 L363.59,387.64 L362.65,388.73 L361.68,389.79 L360.69,390.82 L359.67,391.82 L358.63,392.80 L357.56,393.75 L356.47,394.67 L355.36,395.55 L354.22,396.40 L353.05,397.22 L351.86,398.01 L350.65,398.76 L349.41,399.47 L348.15,400.15 L346.86,400.79 L345.56,401.40 L344.23,401.96 L342.87,402.48 L341.50,402.97 L340.11,403.41 L338.70,403.81 L337.27,404.17 L335.82,404.49 L334.35,404.76 L332.87,404.99 L331.37,405.17 L329.85,405.31 L328.32,405.40 L326.78,405.44 L325.22,405.44 L323.65,405.38 L322.07,405.28 L320.48,405.13 L318.87,404.92 L317.26,404.67 L315.63,404.36 L314.00,404.00 Z" fill="none" stroke="#8a8a8a" stroke-opacity="0.60" stroke-width="1.40"/>
<path d="M292.30,211.50 L293.84,211.42 L295.39,211.40 L296.93,211.44 L298.46,211.54 L299.99,211.69 L301.51,211.89 L303.02,212.15 L304.53,212.46 L306.02,212.81 L307.50,213.22 L308.97,213.68 L310.43,214.18 L311.87,214.72 L313.29,215.31 L314.69,215.95 L316.08,216.62 L317.44,217.34 L318.79,218.09 L320.11,218.89 L321.41,219.72 L322.68,220.58 L323.92,221.48 L325.14,222.41 L326.33,223.38 L327.49,224.37 L328.62,225.40 L329.71,226.45 L330.78,227.53 L331.80,228.63 L332.79,229.76 L333.75,230.92 L334.66,232.09 L335.54,233.29 L336.38,234.50 L337.17,235.74 L337.92,236.99 L338.62,238.26 L339.29,239.54 L339.91,240.84 L340.49,242.16 L341.03,243.49 L341.53,244.83 L342.00,246.19 L342.43,247.56 L342.82,248.94 L343.17,250.33 L343.49,251.74 L343.78,253.15 L344.04,254.58 L344.26,256.02 L344.45,257.47 L344.61,258.92 L344.75,260.38 L344.85,261.86 L344.93,263.34 L344.98,264.82 L345.01,266.32 L345.01,267.82 L344.99,269.32 L344.94,270.83 L344.87,272.34 L344.79,273.86 L344.68,275.39 L344.55,276.91 L344.41,278.44 L344.25,279.97 L344.07,281.50 L343.87,283.03 L343.66,284.57 L343.44,286.10 L343.20,287.63 L342.96,289.17 L342.70,290.70 L342.43,292.23 L342.15,293.75 L341.87,295.28 L341.57,296.80 L341.27,298.31 L340.97,299.83 L340.66,301.34 L340.34,302.84 L340.03,304.33 L339.71,305.83 L339.39,307.31 L339.06,308.79 L338.74,310.26 L338.41,311.73 L338.08,313.19 L337.75,314.65 L337.42,316.10 L337.08,317.55 L336.75,319.00 L336.40,320.44 L336.06,321.88 L335.71,323.32 L335.36,324.75 L335.01,326.18 L334.65,327.61 L334.29,329.05 L333.93,330.47 L333.56,331.90 L333.19,333.33 L332.81,334.76 L332.43,336.19 L332.05,337.62 L331.66,339.06 L331.26,340.49 L330.87,341.92 L330.46,343.36 L330.05,344.80 L329.64,346.25 L329.22,347.69 L328.79,349.14 L328.36,350.59 L327.92,352.04 L327.47,353.48 L327.01,354.93 L326.54,356.37 L326.06,357.81 L325.56,359.24 L325.06,360.67 L324.54,362.09 L324.01,363.50 L323.46,364.91 L322.90,366.30 L322.32,367.69 L321.72,369.07 L321.11,370.43 L320.48,371.79 L319.82,373.12 L319.15,374.45 L318.46,375.76 L317.75,377.05 L317.01,378.33 L316.25,379.59 L315.47,380.83 L314.67,382.05 L313.84,383.26 L312.99,384.44 L312.11,385.59 L311.22,386.73 L310.29,387.84 L309.35,388.93 L308.38,389.99 L307.39,391.02 L306.37,392.02 L305.33,393.00 L304.26,393.95 L303.17,394.87 L302.06,395.75 L300.92,396.60 L299.75,397.42 L298.56,398.21 L297.35,398.96 L296.11,399.67 L294.85,400.35 L293.56,400.99 L292.26,401.60 L290.93,402.16 L289.57,402.68 L288.20,403.17 L286.81,403.61 L285.40,404.01 L283.97,404.37 L282.52,404.69 L281.05,404.96 L279.57,405.19 L278.07,405.37 L276.55,405.51 L275.02,405.60 L273.48,405.64 L271.92,405.64 L270.35,405.58 L268.77,405.48 L267.18,405.33 L265.57,405.12 L263.96,404.87 L262.33,404.56 L260.70,404.20 Z" fill="url(#g150)" style="mix-blend-mode:multiply"/>
<path d="M292.30,211.50 L293.84,211.42 L295.39,211.40 L296.93,211.44 L298.46,211.54 L299.99,211.69 L301.51,211.89 L303.02,212.15 L304.53,212.46 L306.02,212.81 L307.50,213.22 L308.97,213.68 L310.43,214.18 L311.87,214.72 L313.29,215.31 L314.69,215.95 L316.08,216.62 L317.44,217.34 L318.79,218.09 L320.11,218.89 L321.41,219.72 L322.68,220.58 L323.92,221.48 L325.14,222.41 L326.33,223.38 L327.49,224.37 L328.62,225.40 L329.71,226.45 L330.78,227.53 L331.80,228.63 L332.79,229.76 L333.75,230.92 L334.66,232.09 L335.54,233.29 L336.38,234.50 L337.17,235.74 L337.92,236.99 L338.62,238.26 L339.29,239.54 L339.91,240.84 L340.49,242.16 L341.03,243.49 L341.53,244.83 L342.00,246.19 L342.43,247.56 L342.82,248.94 L343.17,250.33 L343.49,251.74 L343.78,253.15 L344.04,254.58 L344.26,256.02 L344.45,257.47 L344.61,258.92 L344.75,260.38 L344.85,261.86 L344.93,263.34 L344.98,264.82 L345.01,266.32 L345.01,267.82 L344.99,269.32 L344.94,270.83 L344.87,272.34 L344.79,273.86 L344.68,275.39 L344.55,276.91 L344.41,278.44 L344.25,279.97 L344.07,281.50 L343.87,283.03 L343.66,284.57 L343.44,286.10 L343.20,287.63 L342.96,289.17 L342.70,290.70 L342.43,292.23 L342.15,293.75 L341.87,295.28 L341.57,296.80 L341.27,298.31 L340.97,299.83 L340.66,301.34 L340.34,302.84 L340.03,304.33 L339.71,305.83 L339.39,307.31 L339.06,308.79 L338.74,310.26 L338.41,311.73 L338.08,313.19 L337.75,314.65 L337.42,316.10 L337.08,317.55 L336.75,319.00 L336.40,320.44 L336.06,321.88 L335.71,323.32 L335.36,324.75 L335.01,326.18 L334.65,327.61 L334.29,329.05 L333.93,330.47 L333.56,331.90 L333.19,333.33 L332.81,334.76 L332.43,336.19 L332.05,337.62 L331.66,339.06 L331.26,340.49 L330.87,341.92 L330.46,343.36 L330.05,344.80 L329.64,346.25 L329.22,347.69 L328.79,349.14 L328.36,350.59 L327.92,352.04 L327.47,353.48 L327.01,354.93 L326.54,356.37 L326.06,357.81 L325.56,359.24 L325.06,360.67 L324.54,362.09 L324.01,363.50 L323.46,364.91 L322.90,366.30 L322.32,367.69 L321.72,369.07 L321.11,370.43 L320.48,371.79 L319.82,373.12 L319.15,374.45 L318.46,375.76 L317.75,377.05 L317.01,378.33 L316.25,379.59 L315.47,380.83 L314.67,382.05 L313.84,383.26 L312.99,384.44 L312.11,385.59 L311.22,386.73 L310.29,387.84 L309.35,388.93 L308.38,389.99 L307.39,391.02 L306.37,392.02 L305.33,393.00 L304.26,393.95 L303.17,394.87 L302.06,395.75 L300.92,396.60 L299.75,397.42 L298.56,398.21 L297.35,398.96 L296.11,399.67 L294.85,400.35 L293.56,400.99 L292.26,401.60 L290.93,402.16 L289.57,402.68 L288.20,403.17 L286.81,403.61 L285.40,404.01 L283.97,404.37 L282.52,404.69 L281.05,404.96 L279.57,405.19 L278.07,405.37 L276.55,405.51 L275.02,405.60 L273.48,405.64 L271.92,405.64 L270.35,405.58 L268.77,405.48 L267.18,405.33 L265.57,405.12 L263.96,404.87 L262.33,404.56 L260.70,404.20 Z" fill="none" stroke="#8a8a8a" stroke-opacity="0.60" stroke-width="1.40"/>
<path d="M242.10,211.50 L243.64,211.42 L245.19,211.40 L246.73,211.44 L248.26,211.54 L249.79,211.69 L251.31,211.89 L252.82,212.15 L254.33,212.46 L255.82,212.81 L257.30,213.22 L258.77,213.68 L260.23,214.18 L261.67,214.72 L263.09,215.31 L264.49,215.95 L265.88,216.62 L267.24,217.34 L268.59,218.09 L269.91,218.89 L271.21,219.72 L272.48,220.58 L273.72,221.48 L274.94,222.41 L276.13,223.38 L277.29,224.37 L278.42,225.40 L279.51,226.45 L280.58,227.53 L281.60,228.63 L282.59,229.76 L283.55,230.92 L284.46,232.09 L285.34,233.29 L286.18,234.50 L286.97,235.74 L287.72,236.99 L288.42,238.26 L289.09,239.54 L289.71,240.84 L290.29,242.16 L290.83,243.49 L291.33,244.83 L291.80,246.19 L292.23,247.56 L292.62,248.94 L292.97,250.33 L293.29,251.74 L293.58,253.15 L293.84,254.58 L294.06,256.02 L294.25,257.47 L294.41,258.92 L294.55,260.38 L294.65,261.86 L294.73,263.34 L294.78,264.82 L294.81,266.32 L294.81,267.82 L294.79,269.32 L294.74,270.83 L294.67,272.34 L294.59,273.86 L294.48,275.39 L294.35,276.91 L294.21,278.44 L294.05,279.97 L293.87,281.50 L293.67,283.03 L293.46,284.57 L293.24,286.10 L293.00,287.63 L292.76,289.17 L292.50,290.70 L292.23,292.23 L291.95,293.75 L291.67,295.28 L291.37,296.80 L291.07,298.31 L290.77,299.83 L290.46,301.34 L290.14,302.84 L289.83,304.33 L289.51,305.83 L289.19,307.31 L288.86,308.79 L288.54,310.26 L288.21,311.73 L287.88,313.19 L287.55,314.65 L287.22,316.10 L286.88,317.55 L286.55,319.00 L286.20,320.44 L285.86,321.88 L285.51,323.32 L285.16,324.75 L284.81,326.18 L284.45,327.61 L284.09,329.05 L283.73,330.47 L283.36,331.90 L282.99,333.33 L282.61,334.76 L282.23,336.19 L281.85,337.62 L281.46,339.06 L281.06,340.49 L280.67,341.92 L280.26,343.36 L279.85,344.80 L279.44,346.25 L279.02,347.69 L278.59,349.14 L278.16,350.59 L277.72,352.04 L277.27,353.48 L276.81,354.93 L276.34,356.37 L275.86,357.81 L275.36,359.24 L274.86,360.67 L274.34,362.09 L273.81,363.50 L273.26,364.91 L272.70,366.30 L272.12,367.69 L271.52,369.07 L270.91,370.43 L270.28,371.79 L269.62,373.12 L268.95,374.45 L268.26,375.76 L267.55,377.05 L266.81,378.33 L266.05,379.59 L265.27,380.83 L264.47,382.05 L263.64,383.26 L262.79,384.44 L261.91,385.59 L261.02,386.73 L260.09,387.84 L259.15,388.93 L258.18,389.99 L257.19,391.02 L256.17,392.02 L255.13,393.00 L254.06,393.95 L252.97,394.87 L251.86,395.75 L250.72,396.60 L249.55,397.42 L248.36,398.21 L247.15,398.96 L245.91,399.67 L244.65,400.35 L243.36,400.99 L242.06,401.60 L240.73,402.16 L239.37,402.68 L238.00,403.17 L236.61,403.61 L235.20,404.01 L233.77,404.37 L232.32,404.69 L230.85,404.96 L229.37,405.19 L227.87,405.37 L226.35,405.51 L224.82,405.60 L223.28,405.64 L221.72,405.64 L220.15,405.58 L218.57,405.48 L216.98,405.33 L215.37,405.12 L213.76,404.87 L212.13,404.56 L210.50,404.20 Z" fill="url(#g90)" stroke="#151a1e" stroke-width="1.5" stroke-linejoin="round"/>
<path d="M188.00,211.30 L189.54,211.22 L191.09,211.20 L192.63,211.24 L194.16,211.34 L195.69,211.49 L197.21,211.69 L198.72,211.95 L200.23,212.26 L201.72,212.61 L203.20,213.02 L204.67,213.48 L206.13,213.98 L207.57,214.52 L208.99,215.11 L210.39,215.75 L211.78,216.42 L213.14,217.14 L214.49,217.89 L215.81,218.69 L217.11,219.52 L218.38,220.38 L219.62,221.28 L220.84,222.21 L222.03,223.18 L223.19,224.17 L224.32,225.20 L225.41,226.25 L226.48,227.33 L227.50,228.43 L228.49,229.56 L229.45,230.72 L230.36,231.89 L231.24,233.09 L232.08,234.30 L232.87,235.54 L233.62,236.79 L234.32,238.06 L234.99,239.34 L235.61,240.64 L236.19,241.96 L236.73,243.29 L237.23,244.63 L237.70,245.99 L238.13,247.36 L238.52,248.74 L238.87,250.13 L239.19,251.54 L239.48,252.95 L239.74,254.38 L239.96,255.82 L240.15,257.27 L240.31,258.72 L240.45,260.18 L240.55,261.66 L240.63,263.14 L240.68,264.62 L240.71,266.12 L240.71,267.62 L240.69,269.12 L240.64,270.63 L240.57,272.14 L240.49,273.66 L240.38,275.19 L240.25,276.71 L240.11,278.24 L239.95,279.77 L239.77,281.30 L239.57,282.83 L239.36,284.37 L239.14,285.90 L238.90,287.43 L238.66,288.97 L238.40,290.50 L238.13,292.03 L237.85,293.55 L237.57,295.08 L237.27,296.60 L236.97,298.11 L236.67,299.63 L236.36,301.14 L236.04,302.64 L235.73,304.13 L235.41,305.63 L235.09,307.11 L234.76,308.59 L234.44,310.06 L234.11,311.53 L233.78,312.99 L233.45,314.45 L233.12,315.90 L232.78,317.35 L232.45,318.80 L232.10,320.24 L231.76,321.68 L231.41,323.12 L231.06,324.55 L230.71,325.98 L230.35,327.41 L229.99,328.85 L229.63,330.27 L229.26,331.70 L228.89,333.13 L228.51,334.56 L228.13,335.99 L227.75,337.42 L227.36,338.86 L226.96,340.29 L226.57,341.72 L226.16,343.16 L225.75,344.60 L225.34,346.05 L224.92,347.49 L224.49,348.94 L224.06,350.39 L223.62,351.84 L223.17,353.28 L222.71,354.73 L222.24,356.17 L221.76,357.61 L221.26,359.04 L220.76,360.47 L220.24,361.89 L219.71,363.30 L219.16,364.71 L218.60,366.10 L218.02,367.49 L217.42,368.87 L216.81,370.23 L216.18,371.59 L215.52,372.92 L214.85,374.25 L214.16,375.56 L213.45,376.85 L212.71,378.13 L211.95,379.39 L211.17,380.63 L210.37,381.85 L209.54,383.06 L208.69,384.24 L207.81,385.39 L206.92,386.53 L205.99,387.64 L205.05,388.73 L204.08,389.79 L203.09,390.82 L202.07,391.82 L201.03,392.80 L199.96,393.75 L198.87,394.67 L197.76,395.55 L196.62,396.40 L195.45,397.22 L194.26,398.01 L193.05,398.76 L191.81,399.47 L190.55,400.15 L189.26,400.79 L187.96,401.40 L186.63,401.96 L185.27,402.48 L183.90,402.97 L182.51,403.41 L181.10,403.81 L179.67,404.17 L178.22,404.49 L176.75,404.76 L175.27,404.99 L173.77,405.17 L172.25,405.31 L170.72,405.40 L169.18,405.44 L167.62,405.44 L166.05,405.38 L164.47,405.28 L162.88,405.13 L161.27,404.92 L159.66,404.67 L158.03,404.36 L156.40,404.00 Z" fill="url(#g60)" style="mix-blend-mode:multiply"/>
<path d="M188.00,211.30 L189.54,211.22 L191.09,211.20 L192.63,211.24 L194.16,211.34 L195.69,211.49 L197.21,211.69 L198.72,211.95 L200.23,212.26 L201.72,212.61 L203.20,213.02 L204.67,213.48 L206.13,213.98 L207.57,214.52 L208.99,215.11 L210.39,215.75 L211.78,216.42 L213.14,217.14 L214.49,217.89 L215.81,218.69 L217.11,219.52 L218.38,220.38 L219.62,221.28 L220.84,222.21 L222.03,223.18 L223.19,224.17 L224.32,225.20 L225.41,226.25 L226.48,227.33 L227.50,228.43 L228.49,229.56 L229.45,230.72 L230.36,231.89 L231.24,233.09 L232.08,234.30 L232.87,235.54 L233.62,236.79 L234.32,238.06 L234.99,239.34 L235.61,240.64 L236.19,241.96 L236.73,243.29 L237.23,244.63 L237.70,245.99 L238.13,247.36 L238.52,248.74 L238.87,250.13 L239.19,251.54 L239.48,252.95 L239.74,254.38 L239.96,255.82 L240.15,257.27 L240.31,258.72 L240.45,260.18 L240.55,261.66 L240.63,263.14 L240.68,264.62 L240.71,266.12 L240.71,267.62 L240.69,269.12 L240.64,270.63 L240.57,272.14 L240.49,273.66 L240.38,275.19 L240.25,276.71 L240.11,278.24 L239.95,279.77 L239.77,281.30 L239.57,282.83 L239.36,284.37 L239.14,285.90 L238.90,287.43 L238.66,288.97 L238.40,290.50 L238.13,292.03 L237.85,293.55 L237.57,295.08 L237.27,296.60 L236.97,298.11 L236.67,299.63 L236.36,301.14 L236.04,302.64 L235.73,304.13 L235.41,305.63 L235.09,307.11 L234.76,308.59 L234.44,310.06 L234.11,311.53 L233.78,312.99 L233.45,314.45 L233.12,315.90 L232.78,317.35 L232.45,318.80 L232.10,320.24 L231.76,321.68 L231.41,323.12 L231.06,324.55 L230.71,325.98 L230.35,327.41 L229.99,328.85 L229.63,330.27 L229.26,331.70 L228.89,333.13 L228.51,334.56 L228.13,335.99 L227.75,337.42 L227.36,338.86 L226.96,340.29 L226.57,341.72 L226.16,343.16 L225.75,344.60 L225.34,346.05 L224.92,347.49 L224.49,348.94 L224.06,350.39 L223.62,351.84 L223.17,353.28 L222.71,354.73 L222.24,356.17 L221.76,357.61 L221.26,359.04 L220.76,360.47 L220.24,361.89 L219.71,363.30 L219.16,364.71 L218.60,366.10 L218.02,367.49 L217.42,368.87 L216.81,370.23 L216.18,371.59 L215.52,372.92 L214.85,374.25 L214.16,375.56 L213.45,376.85 L212.71,378.13 L211.95,379.39 L211.17,380.63 L210.37,381.85 L209.54,383.06 L208.69,384.24 L207.81,385.39 L206.92,386.53 L205.99,387.64 L205.05,388.73 L204.08,389.79 L203.09,390.82 L202.07,391.82 L201.03,392.80 L199.96,393.75 L198.87,394.67 L197.76,395.55 L196.62,396.40 L195.45,397.22 L194.26,398.01 L193.05,398.76 L191.81,399.47 L190.55,400.15 L189.26,400.79 L187.96,401.40 L186.63,401.96 L185.27,402.48 L183.90,402.97 L182.51,403.41 L181.10,403.81 L179.67,404.17 L178.22,404.49 L176.75,404.76 L175.27,404.99 L173.77,405.17 L172.25,405.31 L170.72,405.40 L169.18,405.44 L167.62,405.44 L166.05,405.38 L164.47,405.28 L162.88,405.13 L161.27,404.92 L159.66,404.67 L158.03,404.36 L156.40,404.00 Z" fill="none" stroke="#8a8a8a" stroke-opacity="0.60" stroke-width="1.40"/>
<path d="M146.30,282.80 L146.98,283.41 L147.68,284.02 L148.38,284.63 L149.10,285.24 L149.82,285.84 L150.55,286.45 L151.29,287.05 L152.03,287.65 L152.78,288.26 L153.53,288.86 L154.29,289.46 L155.05,290.07 L155.81,290.67 L156.58,291.28 L157.34,291.89 L158.11,292.50 L158.87,293.12 L159.63,293.73 L160.39,294.35 L161.15,294.97 L161.90,295.60 L162.65,296.23 L163.39,296.87 L164.12,297.51 L164.85,298.15 L165.57,298.80 L166.28,299.45 L166.97,300.11 L167.66,300.78 L168.34,301.46 L169.00,302.14 L169.65,302.82 L170.29,303.52 L170.91,304.22 L171.51,304.93 L172.09,305.66 L172.65,306.39 L173.17,307.14 L173.67,307.89 L174.13,308.67 L174.56,309.45 L174.95,310.26 L175.30,311.08 L175.62,311.91 L175.90,312.76 L176.14,313.62 L176.36,314.49 L176.54,315.37 L176.70,316.26 L176.83,317.15 L176.93,318.06 L177.01,318.97 L177.07,319.88 L177.12,320.80 L177.14,321.72 L177.15,322.64 L177.14,323.56 L177.12,324.49 L177.08,325.41 L177.03,326.34 L176.97,327.26 L176.89,328.19 L176.80,329.12 L176.70,330.04 L176.58,330.97 L176.45,331.90 L176.31,332.83 L176.16,333.76 L176.00,334.69 L175.82,335.61 L175.64,336.54 L175.44,337.47 L175.23,338.40 L175.02,339.33 L174.79,340.26 L174.56,341.19 L174.31,342.12 L174.06,343.05 L173.80,343.98 L173.53,344.90 L173.25,345.83 L172.97,346.76 L172.67,347.68 L172.38,348.61 L172.07,349.53 L171.76,350.46 L171.44,351.38 L171.12,352.31 L170.79,353.23 L170.45,354.15 L170.11,355.07 L169.77,355.99 L169.42,356.90 L169.07,357.82 L168.72,358.74 L168.36,359.65 L168.00,360.56 L167.63,361.48 L167.27,362.39 L166.90,363.29 L166.53,364.20 L166.15,365.11 L165.78,366.01 L165.41,366.91 L165.03,367.81 L164.65,368.71 L164.27,369.60 L163.89,370.50 L163.51,371.38 L163.12,372.27 L162.72,373.15 L162.32,374.02 L161.92,374.89 L161.51,375.76 L161.10,376.61 L160.68,377.47 L160.25,378.31 L159.81,379.15 L159.37,379.98 L158.91,380.80 L158.45,381.62 L157.98,382.42 L157.50,383.22 L157.00,384.00 L156.50,384.78 L155.98,385.55 L155.46,386.30 L154.92,387.05 L154.36,387.78 L153.80,388.50 L153.22,389.21 L152.62,389.91 L152.01,390.59 L151.38,391.27 L150.74,391.92 L150.08,392.56 L149.41,393.19 L148.71,393.80 L148.00,394.40 L147.27,394.98 L146.53,395.55 L145.76,396.10 L144.97,396.63 L144.16,397.15 L143.34,397.64 L142.49,398.12 L141.63,398.59 L140.75,399.03 L139.86,399.46 L138.96,399.87 L138.04,400.26 L137.11,400.64 L136.17,401.00 L135.22,401.34 L134.26,401.66 L133.30,401.97 L132.32,402.25 L131.34,402.52 L130.36,402.78 L129.37,403.01 L128.39,403.23 L127.39,403.42 L126.40,403.60 L125.41,403.77 L124.42,403.91 L123.44,404.04 L122.45,404.14 L121.48,404.23 L120.50,404.30 L119.54,404.36 L118.58,404.39 L117.63,404.41 L116.69,404.40 L115.76,404.38 L114.84,404.34 L113.93,404.29 L113.04,404.21 L112.16,404.11 L111.30,404.00 Z" fill="url(#g30)" style="mix-blend-mode:multiply"/>
<path d="M146.30,282.80 L146.98,283.41 L147.68,284.02 L148.38,284.63 L149.10,285.24 L149.82,285.84 L150.55,286.45 L151.29,287.05 L152.03,287.65 L152.78,288.26 L153.53,288.86 L154.29,289.46 L155.05,290.07 L155.81,290.67 L156.58,291.28 L157.34,291.89 L158.11,292.50 L158.87,293.12 L159.63,293.73 L160.39,294.35 L161.15,294.97 L161.90,295.60 L162.65,296.23 L163.39,296.87 L164.12,297.51 L164.85,298.15 L165.57,298.80 L166.28,299.45 L166.97,300.11 L167.66,300.78 L168.34,301.46 L169.00,302.14 L169.65,302.82 L170.29,303.52 L170.91,304.22 L171.51,304.93 L172.09,305.66 L172.65,306.39 L173.17,307.14 L173.67,307.89 L174.13,308.67 L174.56,309.45 L174.95,310.26 L175.30,311.08 L175.62,311.91 L175.90,312.76 L176.14,313.62 L176.36,314.49 L176.54,315.37 L176.70,316.26 L176.83,317.15 L176.93,318.06 L177.01,318.97 L177.07,319.88 L177.12,320.80 L177.14,321.72 L177.15,322.64 L177.14,323.56 L177.12,324.49 L177.08,325.41 L177.03,326.34 L176.97,327.26 L176.89,328.19 L176.80,329.12 L176.70,330.04 L176.58,330.97 L176.45,331.90 L176.31,332.83 L176.16,333.76 L176.00,334.69 L175.82,335.61 L175.64,336.54 L175.44,337.47 L175.23,338.40 L175.02,339.33 L174.79,340.26 L174.56,341.19 L174.31,342.12 L174.06,343.05 L173.80,343.98 L173.53,344.90 L173.25,345.83 L172.97,346.76 L172.67,347.68 L172.38,348.61 L172.07,349.53 L171.76,350.46 L171.44,351.38 L171.12,352.31 L170.79,353.23 L170.45,354.15 L170.11,355.07 L169.77,355.99 L169.42,356.90 L169.07,357.82 L168.72,358.74 L168.36,359.65 L168.00,360.56 L167.63,361.48 L167.27,362.39 L166.90,363.29 L166.53,364.20 L166.15,365.11 L165.78,366.01 L165.41,366.91 L165.03,367.81 L164.65,368.71 L164.27,369.60 L163.89,370.50 L163.51,371.38 L163.12,372.27 L162.72,373.15 L162.32,374.02 L161.92,374.89 L161.51,375.76 L161.10,376.61 L160.68,377.47 L160.25,378.31 L159.81,379.15 L159.37,379.98 L158.91,380.80 L158.45,381.62 L157.98,382.42 L157.50,383.22 L157.00,384.00 L156.50,384.78 L155.98,385.55 L155.46,386.30 L154.92,387.05 L154.36,387.78 L153.80,388.50 L153.22,389.21 L152.62,389.91 L152.01,390.59 L151.38,391.27 L150.74,391.92 L150.08,392.56 L149.41,393.19 L148.71,393.80 L148.00,394.40 L147.27,394.98 L146.53,395.55 L145.76,396.10 L144.97,396.63 L144.16,397.15 L143.34,397.64 L142.49,398.12 L141.63,398.59 L140.75,399.03 L139.86,399.46 L138.96,399.87 L138.04,400.26 L137.11,400.64 L136.17,401.00 L135.22,401.34 L134.26,401.66 L133.30,401.97 L132.32,402.25 L131.34,402.52 L130.36,402.78 L129.37,403.01 L128.39,403.23 L127.39,403.42 L126.40,403.60 L125.41,403.77 L124.42,403.91 L123.44,404.04 L122.45,404.14 L121.48,404.23 L120.50,404.30 L119.54,404.36 L118.58,404.39 L117.63,404.41 L116.69,404.40 L115.76,404.38 L114.84,404.34 L113.93,404.29 L113.04,404.21 L112.16,404.11 L111.30,404.00 Z" fill="none" stroke="#8a8a8a" stroke-opacity="0.60" stroke-width="1.40"/>
<text transform="translate(598.06,288.15) scale(0.6771,1)" font-size="23.20" font-weight="bold" fill="#fff" stroke="#fff" stroke-width="0.90" stroke-linejoin="round">G</text>
<text transform="translate(611.03,288.15) scale(0.6527,1)" font-size="23.20" font-weight="bold" fill="#fff" stroke="#fff" stroke-width="0.90" stroke-linejoin="round">C</text>
<text transform="translate(589.80,306.85) scale(0.6071,1)" font-size="22.30" font-weight="bold" fill="#fff" stroke="#fff" stroke-width="0.90" stroke-linejoin="round">1</text>
<text transform="translate(600.10,306.85) scale(0.7920,1)" font-size="22.30" font-weight="bold" fill="#fff" stroke="#fff" stroke-width="0.90" stroke-linejoin="round">0</text>
<text transform="translate(611.10,306.85) scale(0.7920,1)" font-size="22.30" font-weight="bold" fill="#fff" stroke="#fff" stroke-width="0.90" stroke-linejoin="round">0</text>
<text transform="translate(622.10,306.85) scale(0.7920,1)" font-size="22.30" font-weight="bold" fill="#fff" stroke="#fff" stroke-width="0.90" stroke-linejoin="round">0</text>
<text transform="translate(529.36,288.15) scale(0.6771,1)" font-size="23.20" font-weight="bold" fill="#fff" stroke="#fff" stroke-width="0.90" stroke-linejoin="round">G</text>
<text transform="translate(542.33,288.15) scale(0.6527,1)" font-size="23.20" font-weight="bold" fill="#fff" stroke="#fff" stroke-width="0.90" stroke-linejoin="round">C</text>
<text transform="translate(525.66,306.85) scale(0.7792,1)" font-size="22.30" font-weight="bold" fill="#fff" stroke="#fff" stroke-width="0.90" stroke-linejoin="round">6</text>
<text transform="translate(536.78,306.85) scale(0.7571,1)" font-size="22.30" font-weight="bold" fill="#fff" stroke="#fff" stroke-width="0.90" stroke-linejoin="round">5</text>
<text transform="translate(547.60,306.85) scale(0.7920,1)" font-size="22.30" font-weight="bold" fill="#fff" stroke="#fff" stroke-width="0.90" stroke-linejoin="round">0</text>
<text transform="translate(460.71,288.15) scale(0.6771,1)" font-size="23.20" font-weight="bold" fill="#fff" stroke="#fff" stroke-width="0.90" stroke-linejoin="round">G</text>
<text transform="translate(473.68,288.15) scale(0.6527,1)" font-size="23.20" font-weight="bold" fill="#fff" stroke="#fff" stroke-width="0.90" stroke-linejoin="round">C</text>
<text transform="translate(456.66,306.85) scale(0.7032,1)" font-size="22.30" font-weight="bold" fill="#fff" stroke="#fff" stroke-width="0.90" stroke-linejoin="round">4</text>
<text transform="translate(467.38,306.85) scale(0.7571,1)" font-size="22.30" font-weight="bold" fill="#fff" stroke="#fff" stroke-width="0.90" stroke-linejoin="round">5</text>
<text transform="translate(478.20,306.85) scale(0.7920,1)" font-size="22.30" font-weight="bold" fill="#fff" stroke="#fff" stroke-width="0.90" stroke-linejoin="round">0</text>
<text transform="translate(405.41,288.15) scale(0.6771,1)" font-size="23.20" font-weight="bold" fill="#fff" stroke="#fff" stroke-width="0.90" stroke-linejoin="round">G</text>
<text transform="translate(418.38,288.15) scale(0.6527,1)" font-size="23.20" font-weight="bold" fill="#fff" stroke="#fff" stroke-width="0.90" stroke-linejoin="round">C</text>
<text transform="translate(401.70,306.85) scale(0.7824,1)" font-size="22.30" font-weight="bold" fill="#fff" stroke="#fff" stroke-width="0.90" stroke-linejoin="round">2</text>
<text transform="translate(412.78,306.85) scale(0.7571,1)" font-size="22.30" font-weight="bold" fill="#fff" stroke="#fff" stroke-width="0.90" stroke-linejoin="round">5</text>
<text transform="translate(423.60,306.85) scale(0.7920,1)" font-size="22.30" font-weight="bold" fill="#fff" stroke="#fff" stroke-width="0.90" stroke-linejoin="round">0</text>
<text transform="translate(350.71,288.15) scale(0.6771,1)" font-size="23.20" font-weight="bold" fill="#fff" stroke="#fff" stroke-width="0.90" stroke-linejoin="round">G</text>
<text transform="translate(363.68,288.15) scale(0.6527,1)" font-size="23.20" font-weight="bold" fill="#fff" stroke="#fff" stroke-width="0.90" stroke-linejoin="round">C</text>
<text transform="translate(346.85,306.85) scale(0.7824,1)" font-size="22.30" font-weight="bold" fill="#fff" stroke="#fff" stroke-width="0.90" stroke-linejoin="round">2</text>
<text transform="translate(357.75,306.85) scale(0.7920,1)" font-size="22.30" font-weight="bold" fill="#fff" stroke="#fff" stroke-width="0.90" stroke-linejoin="round">0</text>
<text transform="translate(368.75,306.85) scale(0.7920,1)" font-size="22.30" font-weight="bold" fill="#fff" stroke="#fff" stroke-width="0.90" stroke-linejoin="round">0</text>
<text transform="translate(298.86,288.15) scale(0.6771,1)" font-size="23.20" font-weight="bold" fill="#fff" stroke="#fff" stroke-width="0.90" stroke-linejoin="round">G</text>
<text transform="translate(311.83,288.15) scale(0.6527,1)" font-size="23.20" font-weight="bold" fill="#fff" stroke="#fff" stroke-width="0.90" stroke-linejoin="round">C</text>
<text transform="translate(296.20,306.85) scale(0.6071,1)" font-size="22.30" font-weight="bold" fill="#fff" stroke="#fff" stroke-width="0.90" stroke-linejoin="round">1</text>
<text transform="translate(306.68,306.85) scale(0.7571,1)" font-size="22.30" font-weight="bold" fill="#fff" stroke="#fff" stroke-width="0.90" stroke-linejoin="round">5</text>
<text transform="translate(317.50,306.85) scale(0.7920,1)" font-size="22.30" font-weight="bold" fill="#fff" stroke="#fff" stroke-width="0.90" stroke-linejoin="round">0</text>
<text transform="translate(247.86,288.15) scale(0.6771,1)" font-size="23.20" font-weight="bold" fill="#fff" stroke="#fff" stroke-width="0.90" stroke-linejoin="round">G</text>
<text transform="translate(260.83,288.15) scale(0.6527,1)" font-size="23.20" font-weight="bold" fill="#fff" stroke="#fff" stroke-width="0.90" stroke-linejoin="round">C</text>
<text transform="translate(249.90,306.85) scale(0.7777,1)" font-size="22.30" font-weight="bold" fill="#fff" stroke="#fff" stroke-width="0.90" stroke-linejoin="round">9</text>
<text transform="translate(260.80,306.85) scale(0.7920,1)" font-size="22.30" font-weight="bold" fill="#fff" stroke="#fff" stroke-width="0.90" stroke-linejoin="round">0</text>
<text transform="translate(193.06,288.15) scale(0.6771,1)" font-size="23.20" font-weight="bold" fill="#fff" stroke="#fff" stroke-width="0.90" stroke-linejoin="round">G</text>
<text transform="translate(206.03,288.15) scale(0.6527,1)" font-size="23.20" font-weight="bold" fill="#fff" stroke="#fff" stroke-width="0.90" stroke-linejoin="round">C</text>
<text transform="translate(194.96,306.85) scale(0.7792,1)" font-size="22.30" font-weight="bold" fill="#fff" stroke="#fff" stroke-width="0.90" stroke-linejoin="round">6</text>
<text transform="translate(205.90,306.85) scale(0.7920,1)" font-size="22.30" font-weight="bold" fill="#fff" stroke="#fff" stroke-width="0.90" stroke-linejoin="round">0</text>
<text transform="translate(137.76,334.55) scale(0.6771,1)" font-size="23.20" font-weight="bold" fill="#fff" stroke="#fff" stroke-width="0.90" stroke-linejoin="round">G</text>
<text transform="translate(150.73,334.55) scale(0.6527,1)" font-size="23.20" font-weight="bold" fill="#fff" stroke="#fff" stroke-width="0.90" stroke-linejoin="round">C</text>
<text transform="translate(139.96,353.25) scale(0.7578,1)" font-size="22.30" font-weight="bold" fill="#fff" stroke="#fff" stroke-width="0.90" stroke-linejoin="round">3</text>
<text transform="translate(150.65,353.25) scale(0.7920,1)" font-size="22.30" font-weight="bold" fill="#fff" stroke="#fff" stroke-width="0.90" stroke-linejoin="round">0</text>
<rect x="84" y="82" width="4" height="340" fill="#000"/>
<rect x="84" y="418" width="641" height="4" fill="#000"/>
<text transform="translate(351.94,45.10) scale(0.8229,1)" font-size="17.20" fill="#1a1a1a">VOLUME m</text>
<text transform="translate(427.17,40.60) scale(0.9015,1)" font-size="12.40" fill="#1a1a1a">3</text>
<text transform="translate(432.90,45.10) scale(0.9703,1)" font-size="17.20" fill="#1a1a1a">/hr</text>
<text transform="translate(101.86,77.50) scale(0.8558,1)" font-size="17.50" fill="#1a1a1a">1,500</text>
<text transform="translate(170.41,77.50) scale(0.8488,1)" font-size="17.50" fill="#1a1a1a">4,500</text>
<text transform="translate(235.09,77.50) scale(0.8678,1)" font-size="17.50" fill="#1a1a1a">8,000</text>
<text transform="translate(332.59,77.50) scale(0.8736,1)" font-size="17.50" fill="#1a1a1a">15,000</text>
<text transform="translate(400.49,77.50) scale(0.8660,1)" font-size="17.50" fill="#1a1a1a">25,000</text>
<text transform="translate(500.39,77.50) scale(0.8678,1)" font-size="17.50" fill="#1a1a1a">50,000</text>
<text transform="translate(565.42,77.50) scale(0.8818,1)" font-size="17.50" fill="#1a1a1a">100,000</text>
<text transform="translate(668.14,77.50) scale(0.8736,1)" font-size="17.50" fill="#1a1a1a">500,000</text>
<text transform="translate(110.84,442.25) scale(0.8737,1)" font-size="17.50" fill="#1a1a1a">1,000</text>
<text transform="translate(165.49,442.25) scale(0.8584,1)" font-size="17.50" fill="#1a1a1a">2,500</text>
<text transform="translate(243.14,442.25) scale(0.8666,1)" font-size="17.50" fill="#1a1a1a">5,000</text>
<text transform="translate(340.54,442.25) scale(0.8690,1)" font-size="17.50" fill="#1a1a1a">9,000</text>
<text transform="translate(408.34,442.25) scale(0.8688,1)" font-size="17.50" fill="#1a1a1a">15,000</text>
<text transform="translate(509.17,442.25) scale(0.8721,1)" font-size="17.50" fill="#1a1a1a">30,000</text>
<text transform="translate(582.12,442.25) scale(0.8758,1)" font-size="17.50" fill="#1a1a1a">60,000</text>
<text transform="translate(650.52,442.25) scale(0.8666,1)" font-size="17.50" fill="#1a1a1a">300,000</text>
<text transform="translate(357.69,472.00) scale(0.8358,1)" font-size="17.20" fill="#1a1a1a">VOLUME cfm</text>
<text transform="translate(673.00,463.00) scale(0.8541,1)" font-size="14.80" fill="#1a1a1a">*not to scale</text>
<text transform="translate(40.34,86.10) scale(0.9479,1)" font-size="17.50" fill="#404040">1,500</text>
<text transform="translate(46.63,143.60) scale(0.9704,1)" font-size="17.50" fill="#404040">700</text>
<text transform="translate(47.12,202.00) scale(0.9533,1)" font-size="17.50" fill="#404040">450</text>
<text transform="translate(46.35,267.80) scale(0.9785,1)" font-size="17.50" fill="#404040">300</text>
<text transform="translate(47.50,343.00) scale(0.9381,1)" font-size="17.50" fill="#404040">150</text>
<text transform="translate(52.05,392.10) scale(0.9421,1)" font-size="17.50" fill="#404040">75</text>
<text transform="translate(55.90,425.50) scale(1.0280,1)" font-size="17.50" fill="#404040">0</text>
<text transform="translate(725.72,89.70) scale(0.9639,1)" font-size="17.50" fill="#404040">100</text>
<text transform="translate(733.98,127.50) scale(1.0342,1)" font-size="17.50" fill="#404040">50</text>
<text transform="translate(734.01,165.40) scale(1.0352,1)" font-size="17.50" fill="#404040">35</text>
<text transform="translate(734.01,202.60) scale(1.0323,1)" font-size="17.50" fill="#404040">30</text>
<text transform="translate(734.34,240.10) scale(0.9804,1)" font-size="17.50" fill="#404040">25</text>
<text transform="translate(734.34,278.00) scale(0.9776,1)" font-size="17.50" fill="#404040">20</text>
<text transform="translate(735.04,314.90) scale(0.9427,1)" font-size="17.50" fill="#404040">15</text>
<text transform="translate(735.05,353.20) scale(0.9399,1)" font-size="17.50" fill="#404040">10</text>
<text transform="translate(743.81,391.00) scale(0.9883,1)" font-size="17.50" fill="#404040">5</text>
<text transform="translate(744.12,428.20) scale(0.9922,1)" font-size="17.50" fill="#404040">0</text>
<text transform="translate(34.00,333.82) rotate(-90) scale(0.9221,1)" font-size="17.50" fill="#404040">PRESSURE psig</text>
<text transform="translate(776.40,336.93) rotate(-90) scale(0.9266,1)" font-size="17.50" fill="#404040">PRESSURE barg</text>
</svg></body></html>
